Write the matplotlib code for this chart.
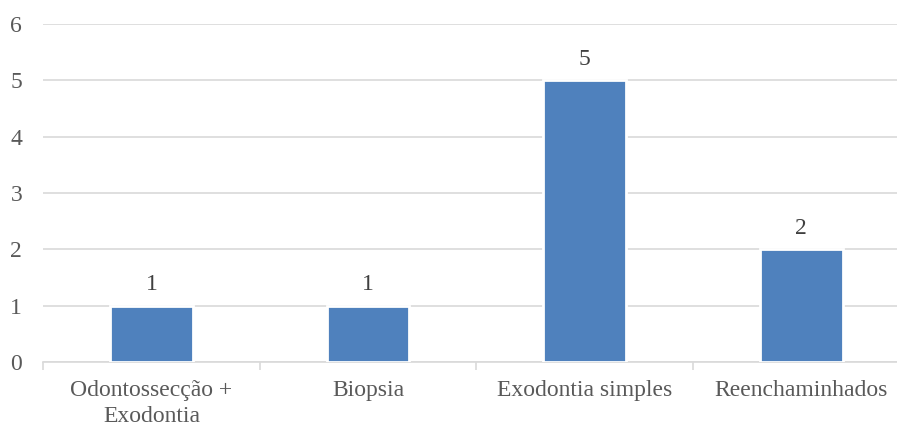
import matplotlib.pyplot as plt
import numpy as np

categories = ['Odontossecção +\nExodontia', 'Biopsia', 'Exodontia simples', 'Reenchaminhados']
values = [1, 1, 5, 2]

plt.rcParams['font.family'] = ['Liberation Serif', 'DejaVu Serif']
text_color = '#595959'

fig = plt.figure(figsize=(8.97, 4.28), dpi=100)
ax = fig.add_axes([0.048, 0.154, 0.966, 0.79])

x = np.arange(len(categories))
bars = ax.bar(x, values, width=0.383, color='#4F81BD', edgecolor='white', linewidth=2, zorder=3)

for xi, v in zip(x, values):
    ax.text(xi, v + 0.19, str(v), ha='center', va='bottom', fontsize=17, color='#404040', zorder=4)

ax.set_xlim(-0.5, len(categories) - 0.5)
ax.set_ylim(0, 6)
ax.set_yticks(range(7))
ax.yaxis.grid(True, color='#d9d9d9', linewidth=1.2, zorder=0)
ax.set_axisbelow(True)

ax.set_xticks(x)
ax.set_xticklabels(categories, fontsize=17, color=text_color, linespacing=1.3)
ax.tick_params(axis='x', length=0, pad=13)
ax.set_xticks(np.arange(-0.5, len(categories)), minor=True)
ax.tick_params(axis='x', which='minor', length=6, color='#d9d9d9', width=1.2)
ax.tick_params(axis='y', length=0, labelsize=17, labelcolor=text_color, pad=15)

for side in ['top', 'right', 'left']:
    ax.spines[side].set_visible(False)
ax.spines['bottom'].set_color('#d9d9d9')
ax.spines['bottom'].set_linewidth(1.2)

fig.savefig('out.png', dpi=100)
